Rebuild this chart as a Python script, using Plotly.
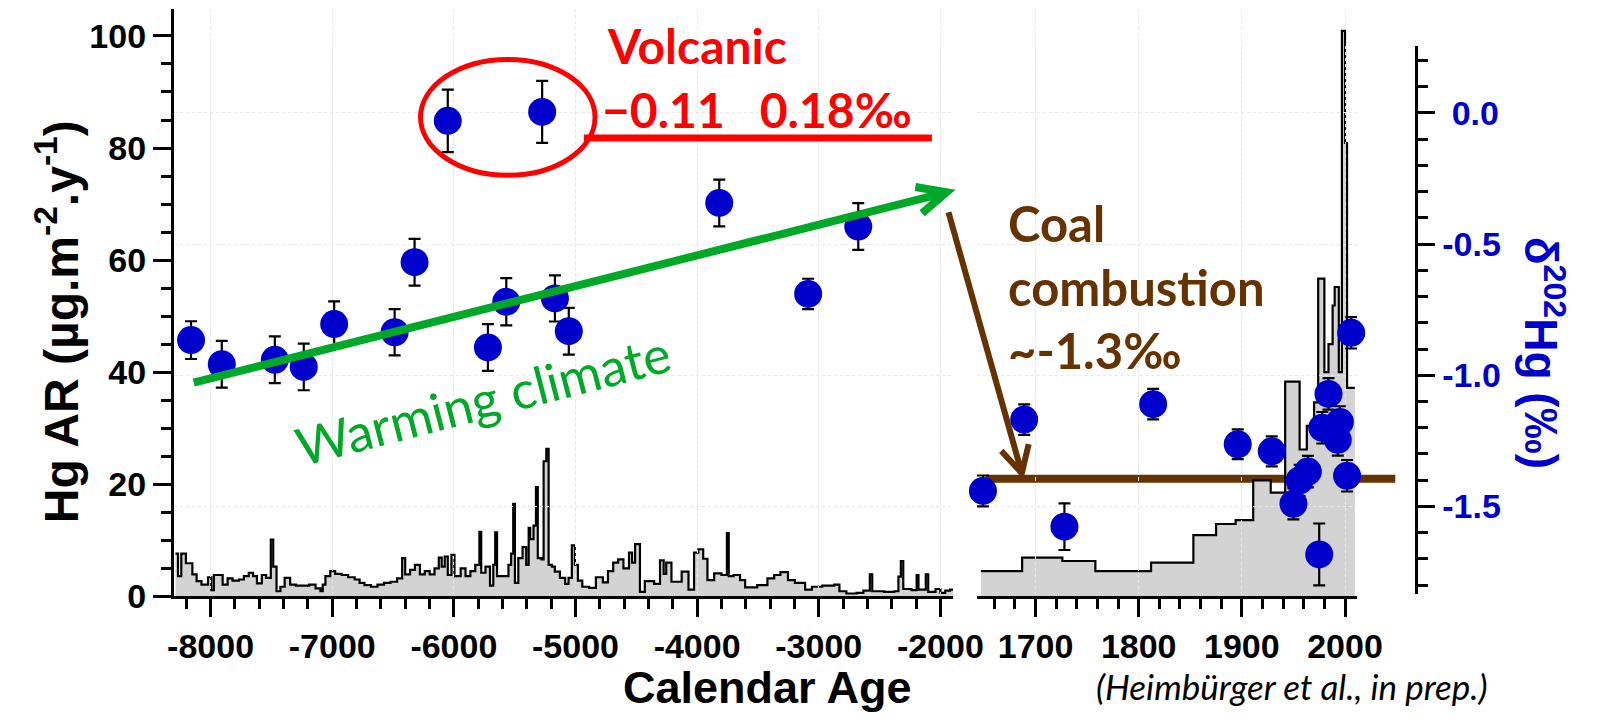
import plotly.graph_objects as go

W, H = 1614, 727

# Hg accumulation rate (µg m-2 y-1), Holocene section: start year of each step and value
hol_years = [-8289, -8268, -8241, -8203, -8150, -8115, -8075, -8021, -7994, -7973, -7901, -7860,
             -7820, -7767, -7726, -7686, -7651, -7619, -7579, -7544, -7505, -7485, -7458, -7426,
             -7391, -7346, -7298, -7244, -7190, -7137, -7097, -7078, -7056, -7016, -6976, -6923,
             -6869, -6815, -6775, -6735, -6681, -6628, -6574, -6521, -6467, -6425, -6400, -6360,
             -6320, -6279, -6239, -6199, -6159, -6124, -6100, -6075, -6050, -6020, -5995, -5944,
             -5904, -5864, -5824, -5790, -5775, -5740, -5703, -5676, -5660, -5645, -5596, -5551,
             -5529, -5512, -5498, -5470, -5435, -5405, -5385, -5372, -5345, -5325, -5310, -5280,
             -5262, -5240, -5221, -5194, -5170, -5128, -5085, -5057, -5030, -5005, -4980, -4944,
             -4888, -4832, -4775, -4733, -4690, -4649, -4606, -4560, -4535, -4510, -4470, -4430,
             -4353, -4305, -4275, -4254, -4211, -4127, -4071, -4025, -3990, -3950, -3915, -3860,
             -3800, -3755, -3740, -3700, -3647, -3605, -3506, -3422, -3366, -3315, -3253, -3196,
             -3112, -3056, -2971, -2872, -2830, -2773, -2689, -2633, -2580, -2560, -2463, -2379,
             -2345, -2325, -2305, -2238, -2195, -2180, -2120, -2100, -2040, -2000, -1960, -1920,
             -1895]
hol_hgar = [7.6, 3.6, 7.6, 5.9, 3.9, 2.7, 2.1, 3.4, 1.1, 3.8, 2.1, 3.2,
            2.8, 3.0, 3.6, 4.2, 3.6, 2.3, 3.8, 3.3, 10.1, 5.3, 0.9, 1.7,
            3.3, 2.1, 1.9, 1.9, 2.1, 1.4, 0.9, 2.1, 3.6, 4.5, 4.0, 3.8,
            3.4, 3.0, 2.4, 2.0, 1.7, 2.1, 2.4, 2.6, 3.2, 6.8, 3.9, 4.7,
            5.6, 3.9, 4.5, 3.9, 5.0, 6.9, 5.3, 7.1, 3.8, 7.4, 3.6, 5.0,
            3.6, 4.5, 5.6, 11.5, 4.2, 5.3, 1.9, 5.6, 11.4, 3.6, 3.6, 5.6,
            7.6, 16.5, 2.4, 6.8, 8.8, 5.6, 12.2, 10.2, 12.6, 19.5, 6.8, 6.6,
            24.1, 26.3, 5.6, 5.3, 4.4, 3.3, 2.2, 3.3, 9.1, 5.6, 2.8, 1.7,
            1.5, 3.4, 2.5, 4.5, 6.0, 6.6, 5.0, 7.8, 6.0, 9.3, 0.8, 2.7,
            2.2, 6.4, 4.0, 6.0, 2.6, 4.4, 1.2, 7.8, 8.4, 6.7, 2.9, 4.1,
            3.8, 11.3, 3.6, 3.8, 2.9, 1.6, 2.0, 3.2, 3.8, 4.3, 2.9, 2.4,
            1.2, 1.7, 1.9, 2.1, 0.9, 0.5, 0.6, 1.0, 3.9, 0.9, 0.8, 0.9,
            3.5, 6.3, 1.3, 1.1, 3.8, 1.2, 3.9, 0.8, 1.3, 0.6, 1.0, 1.2,
            1.2]

# Hg accumulation rate, last four centuries
mod_years = [1647, 1687, 1726, 1758, 1812, 1853, 1875, 1894, 1911, 1928, 1942, 1956,
             1963, 1970, 1974, 1980, 1984, 1988, 1990, 1994, 1997, 2000, 2002, 2009.5]
mod_hgar = [4.5, 6.9, 6.3, 4.5, 6.0, 10.9, 12.9, 13.6, 20.7, 18.5, 38.3, 26.2,
            30.4, 34.6, 56.7, 40.0, 45.0, 51.9, 55.2, 40.0, 100.9, 80.9, 37.2, 37.2]

# delta-202Hg (permil) with 2SD uncertainties
hol_d_years = [-8161, -7908, -7472, -7234, -6984, -6487, -6323, -6050, -5720, -5569,
               -5274, -5169, -5055, -3818, -3087, -2675]
hol_d202 = [-0.866, -0.958, -0.941, -0.968, -0.805, -0.836, -0.569, -0.030, -0.894, -0.720,
            0.004, -0.707, -0.832, -0.343, -0.690, -0.433]
hol_d_err = [0.072, 0.089, 0.089, 0.089, 0.087, 0.088, 0.089, 0.119, 0.089, 0.090,
             0.118, 0.088, 0.089, 0.089, 0.058, 0.089]

mod_d_years = [1649, 1689, 1728, 1814, 1896, 1929, 1950, 1956, 1964, 1975, 1978, 1984,
               1993, 1995, 2002, 2006]
mod_d202 = [-1.441, -1.169, -1.577, -1.110, -1.263, -1.290, -1.490, -1.401, -1.367, -1.683,
            -1.200, -1.071, -1.246, -1.178, -1.383, -0.838]
mod_d_err = [0.059, 0.058, 0.089, 0.058, 0.057, 0.057, 0.059, 0.060, 0.060, 0.118,
             0.060, 0.060, 0.060, 0.060, 0.060, 0.060]

# tick labels
hol_ticks = [-8000, -7000, -6000, -5000, -4000, -3000, -2000]
mod_ticks = [1700, 1800, 1900, 2000]
hgar_ticks = [0, 20, 40, 60, 80, 100]
d202_ticks = [0.0, -0.5, -1.0, -1.5]
d202_labels = ["\u00a00.0", "-0.5", "-1.0", "-1.5"]


def px(x):
    return x / W


def py(y):
    return 1 - y / H


BLUE = "#0000CC"
GREEN = "#00A828"
BROWN = "#663300"
RED = "#FF0000"
GRID = "#e8e8e8"
AXFONT = dict(family="Liberation Sans", size=34, color="black", weight="bold")

fig = go.Figure()

for xs, ys, xa in [(hol_years, hol_hgar, "x"), (mod_years, mod_hgar, "x2")]:
    fig.add_trace(go.Scatter(
        x=xs, y=ys, xaxis=xa, yaxis="y", mode="lines",
        line=dict(shape="hv", color="black", width=2.2),
        fill="tozeroy", fillcolor="#d3d3d3", hoverinfo="skip", showlegend=False))

for xs, ys, es, xa in [(hol_d_years, hol_d202, hol_d_err, "x"),
                       (mod_d_years, mod_d202, mod_d_err, "x2")]:
    fig.add_trace(go.Scatter(
        x=xs, y=ys, xaxis=xa, yaxis="y2", mode="markers",
        marker=dict(size=28, color=BLUE, line=dict(width=0)),
        error_y=dict(type="data", array=es, color="black", thickness=2.2, width=6),
        cliponaxis=False, showlegend=False))

common_x = dict(
    showline=True, linecolor="black", linewidth=3, mirror=False,
    ticks="outside", ticklen=18, tickwidth=3, tickcolor="black",
    tickfont=AXFONT, showgrid=True, gridcolor=GRID, griddash="dot", gridwidth=1,
    zeroline=False, anchor="y",
)

fig.update_layout(
    width=W, height=H, autosize=False,
    margin=dict(l=0, r=0, t=0, b=0),
    paper_bgcolor="white", plot_bgcolor="rgba(0,0,0,0)",
    showlegend=False,
    xaxis=dict(domain=[px(171.7), px(969)], range=[-8302, -1893],
               tickvals=hol_ticks, ticktext=[str(v) for v in hol_ticks],
               minor=dict(dtick=200, tick0=0, ticks="outside", ticklen=10, tickwidth=3,
                          tickcolor="black", showgrid=False),
               **common_x),
    xaxis2=dict(domain=[px(993), px(1382)], range=[1643.1, 2011.8],
                tickvals=mod_ticks, ticktext=[str(v) for v in mod_ticks],
                minor=dict(dtick=20, tick0=1700, ticks="outside", ticklen=10, tickwidth=3,
                           tickcolor="black", showgrid=False),
                **common_x),
    yaxis=dict(domain=[py(612.3), py(9.3)], range=[0, 104.8], anchor="x", side="left",
               tickvals=hgar_ticks, ticktext=[str(v) for v in hgar_ticks],
               showline=True, linecolor="black", linewidth=3,
               ticks="outside", ticklen=18, tickwidth=3, tickcolor="black",
               minor=dict(dtick=5, tick0=0, ticks="outside", ticklen=10, tickwidth=3,
                          tickcolor="black", showgrid=False),
               tickfont=AXFONT, showgrid=False, zeroline=False),
    yaxis2=dict(domain=[py(610), py(47.3)], range=[-1.834, 0.255], anchor="free",
                position=px(1442.6), side="right",
                tickvals=d202_ticks, ticktext=d202_labels,
                showline=True, linecolor="black", linewidth=3,
                ticks="outside", ticklen=17, tickwidth=3, tickcolor="black",
                minor=dict(dtick=0.1, tick0=0, ticks="outside", ticklen=10, tickwidth=3,
                           tickcolor="black", showgrid=False),
                tickfont=dict(family="Liberation Sans", size=34, color=BLUE, weight="bold"),
                showgrid=True, gridcolor=GRID, griddash="dot", gridwidth=1,
                zeroline=False),
)


def path(points, breaks=()):
    parts = []
    for i, (x, y) in enumerate(points):
        cmd = "M" if i == 0 or i in breaks else "L"
        parts.append(f"{cmd} {px(x):.5f},{py(y):.5f}")
    return " ".join(parts)


shapes = [
    # volcanic cluster and its source line
    dict(type="circle", xref="paper", yref="paper", x0=px(424), x1=px(602.5),
         y0=py(180), y1=py(61), line=dict(color=RED, width=5), layer="above"),
    dict(type="line", xref="paper", yref="paper", x0=px(591), x1=px(947),
         y0=py(141.7), y1=py(141.7), line=dict(color=RED, width=7), layer="above"),
    # coal combustion level
    dict(type="line", xref="paper", yref="paper", x0=px(1002), x1=px(1421),
         y0=py(491.7), y1=py(491.7), line=dict(color=BROWN, width=8), layer="below"),
    # warming climate trend arrow
    dict(type="path", xref="paper", yref="paper",
         path=path([(192, 393), (962, 197.5), (930, 192), (962, 197.5), (937, 219)], breaks=(2,)),
         line=dict(color=GREEN, width=8), layer="above"),
    # drop towards coal combustion
    dict(type="path", xref="paper", yref="paper",
         path=path([(964, 218), (1039, 486), (1018, 463), (1039, 486), (1046, 456)], breaks=(2,)),
         line=dict(color=BROWN, width=6), layer="above"),
]
fig.update_layout(shapes=shapes)

ann = [
    dict(text="Hg AR (µg.m<sup>-2</sup>.y<sup>-1</sup>)", x=px(53), y=py(330), textangle=-90,
         font=dict(family="Liberation Sans", size=48, color="black", weight="bold")),
    dict(text="Calendar Age", x=px(778), y=py(706),
         font=dict(family="Liberation Sans", size=45, color="black", weight="bold")),
    dict(text="δ<sup>202</sup>Hg (‰)", x=px(1574), y=py(362), textangle=90,
         font=dict(family="Liberation Sans", size=46, color=BLUE, weight="bold")),
    dict(text="Volcanic", x=px(707), y=py(47),
         font=dict(family="Lato", size=48, color=RED, weight="bold")),
    dict(text="−0.11\u00a0\u00a0 0.18‰", x=px(768), y=py(112),
         font=dict(family="Lato", size=48, color=RED, weight="bold")),
    dict(text="Coal<br>combustion<br>~-1.3‰", x=px(1023), y=py(294), xanchor="left", align="left",
         font=dict(family="Lato", size=49, color=BROWN, weight="bold")),
    dict(text="Warming climate", x=px(488), y=py(410), textangle=-14.5,
         font=dict(family="Lato", size=52, color=GREEN)),
    dict(text="(Heimbürger et al., in prep.)", x=px(1315), y=py(704),
         font=dict(family="Lato", size=35, color="black", style="italic")),
]
for a in ann:
    a.setdefault("xanchor", "center")
    a.update(xref="paper", yref="paper", showarrow=False, yanchor="middle")
fig.update_layout(annotations=ann)

fig.write_html("out.html")
